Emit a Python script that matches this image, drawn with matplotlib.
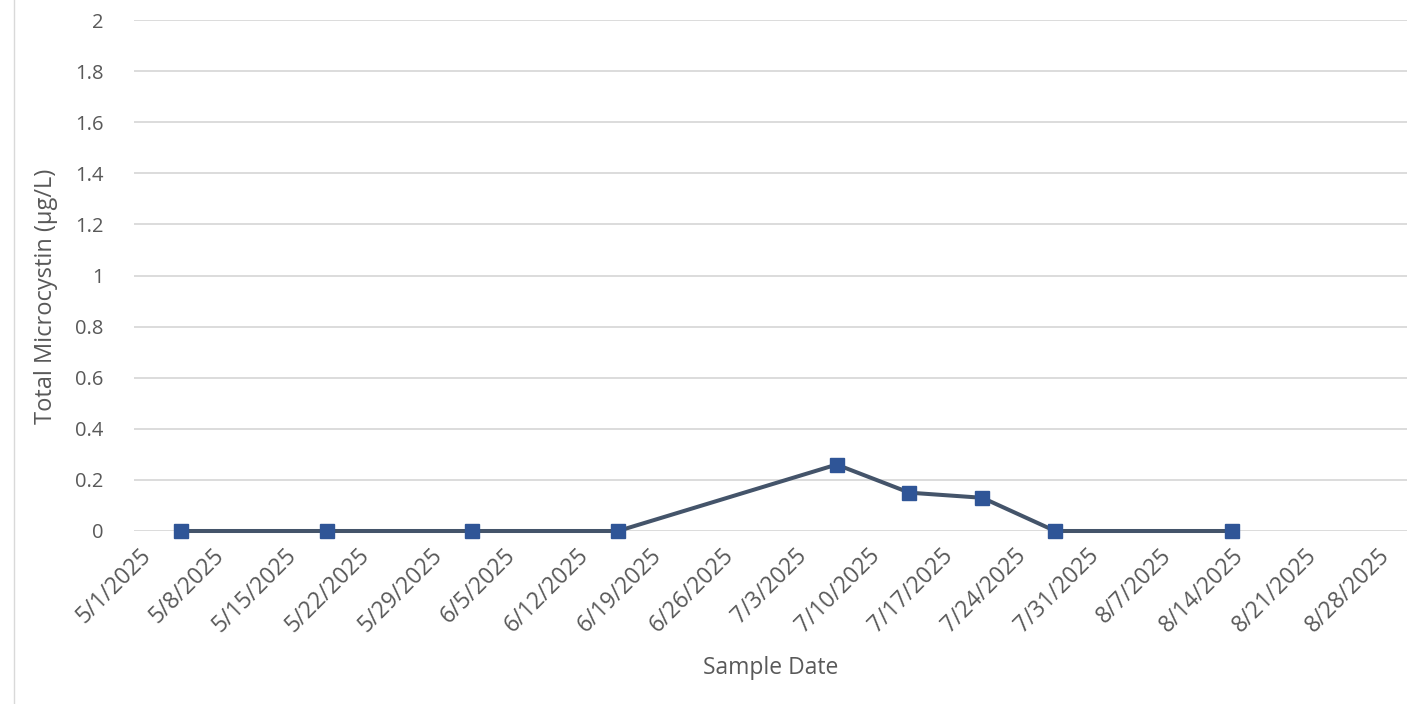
import numpy as np
import matplotlib
matplotlib.use('Agg')
import matplotlib.pyplot as plt
import matplotlib.dates as mdates
from datetime import date, timedelta

plt.rcParams['font.family'] = ['Open Sans', 'DejaVu Sans']

# sample data
sample_dates = [date(2025, 5, 5), date(2025, 5, 19), date(2025, 6, 2), date(2025, 6, 16),
                date(2025, 7, 7), date(2025, 7, 14), date(2025, 7, 21), date(2025, 7, 28),
                date(2025, 8, 14)]
microcystin = [0, 0, 0, 0, 0.26, 0.15, 0.13, 0, 0]

tick_dates = [date(2025, 5, 1) + timedelta(days=7 * i) for i in range(18)]
tick_labels = ['%d/%d/%d' % (d.month, d.day, d.year) for d in tick_dates]
y_ticks = [0, 0.2, 0.4, 0.6, 0.8, 1, 1.2, 1.4, 1.6, 1.8, 2]
y_labels = ['0', '0.2', '0.4', '0.6', '0.8', '1', '1.2', '1.4', '1.6', '1.8', '2']

txt = '#595959'

fig = plt.figure(figsize=(14.27, 7.04), dpi=100, facecolor='white')
ax = fig.add_axes([134 / 1427, 1 - 531 / 704, (1407 - 134) / 1427, (531 - 20) / 704])

x = mdates.date2num(sample_dates)
ax.plot(x, microcystin, color='#44546A', lw=2.9, zorder=3, clip_on=False)
ax.plot(x, microcystin, ls='none', marker='s', ms=10, color='#2F5597', zorder=4,
        clip_on=False)

x0 = mdates.date2num(date(2025, 5, 1))
ax.set_xlim(x0 - 0.5, x0 + 121.8)
ax.set_ylim(0, 2)

ax.set_xticks(mdates.date2num(tick_dates))
ax.set_xticklabels(tick_labels, rotation=45, ha='right', rotation_mode='anchor',
                   fontsize=16.5, color=txt)
ax.set_yticks(y_ticks)
ax.set_yticklabels(y_labels, fontsize=14.5, color=txt)
ax.tick_params(axis='both', length=0)
ax.tick_params(axis='x', pad=9)
ax.tick_params(axis='y', pad=22)

ax.grid(axis='y', color='#D9D9D9', lw=1.3)
ax.set_axisbelow(True)
for s in ax.spines.values():
    s.set_visible(False)

ax.set_xlabel('Sample Date', fontsize=16.5, color=txt)
ax.xaxis.set_label_coords(0.5, -0.245)
ax.set_ylabel('Total Microcystin (µg/L)', fontsize=17, color=txt)
ax.yaxis.set_label_coords(-0.06, 0.46)

# left border of chart frame
fig.add_artist(plt.Line2D([13.5 / 1427, 13.5 / 1427], [0, 1], color='#D9D9D9', lw=1,
                          transform=fig.transFigure))

plt.savefig('out.png', dpi=100)
